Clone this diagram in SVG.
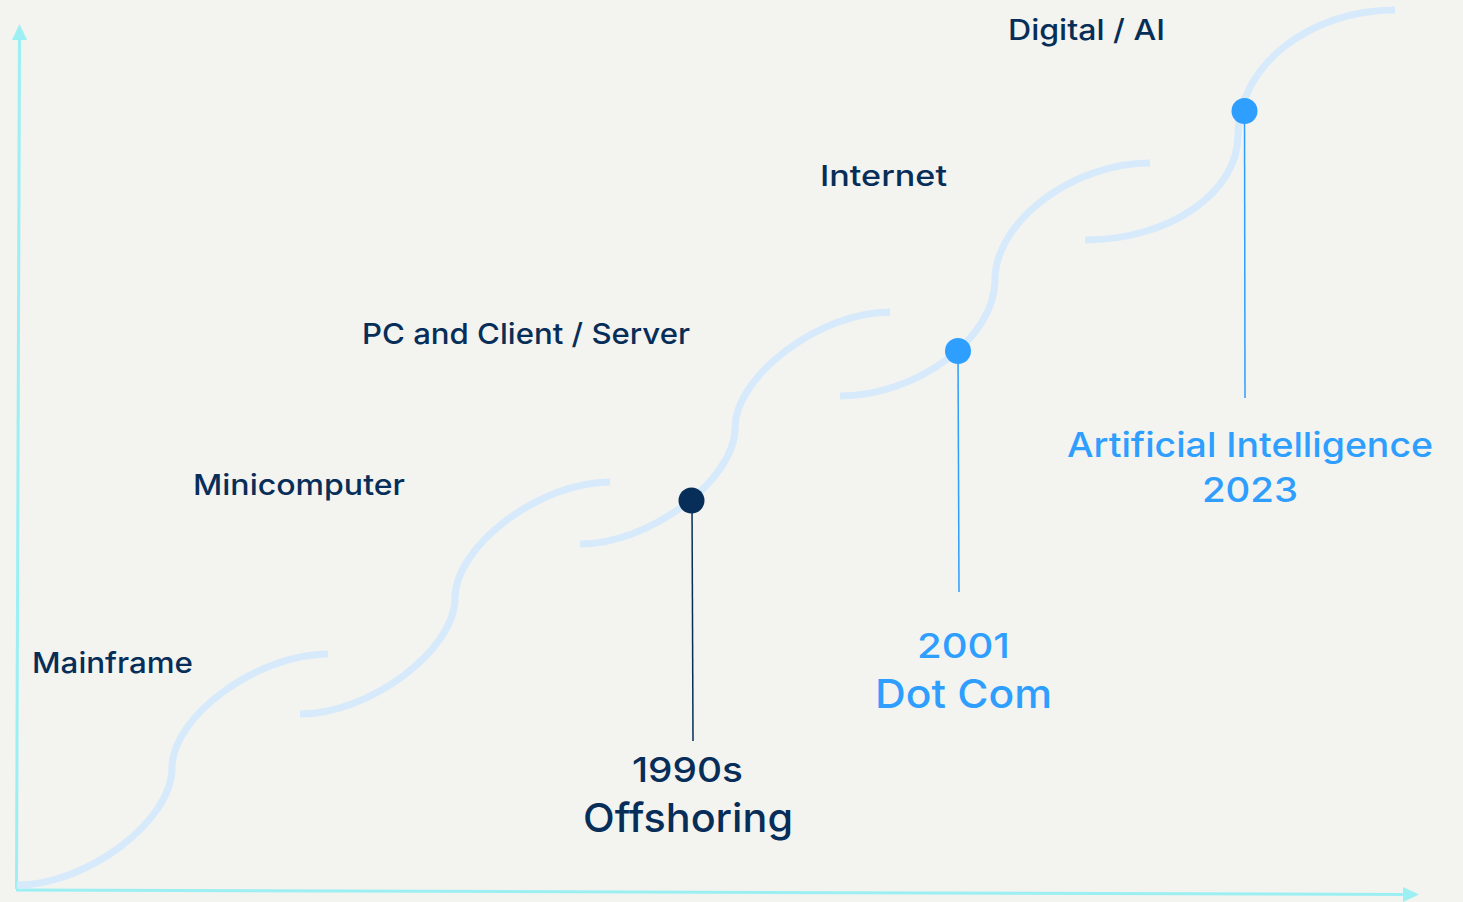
<svg xmlns="http://www.w3.org/2000/svg" width="1463" height="902" viewBox="0 0 1463 902">
<style>
.curve{fill:none;stroke:#d6eafc;stroke-width:7}
.axis{fill:none;stroke:#9cf0f4;stroke-width:3}
.era{font-family:Inter,"Liberation Sans",sans-serif;font-size:29px;font-weight:500;fill:#072e58}
.ev{font-family:Inter,"Liberation Sans",sans-serif;font-weight:500;text-anchor:middle}
.dark{fill:#072e58}
.light{fill:#2e9eff}
</style>
<rect width="1463" height="902" fill="#f3f3ef"/>
<g id="axes">
<line class="axis" x1="16.5" y1="889" x2="19.5" y2="38"/>
<polygon points="19.5,24 27,40 12,40" fill="#9cf0f4"/>
<line class="axis" x1="16" y1="890" x2="1405" y2="894.5"/>
<polygon points="1419,894.5 1403,887 1403,902" fill="#9cf0f4"/>
</g>
<g id="connectors">
<path class="curve" d="M17,885 C87,885 172,821 172,768 C172,716 258,654 328,654"/>
<path class="curve" d="M300,714 C370,714 455,650 455,598 C455,546 540,482 610,482"/>
<path class="curve" d="M580,544 C650,544 735,480 735,428 C735,376 820,312 890,312"/>
<path class="curve" d="M840,396 C917,396 995,338 995,280 C995,222 1072,163 1150,163"/>
<path class="curve" d="M1085,240 C1169,240 1238,193 1238,135 C1238,66 1309,10 1395,10"/>
<line x1="692" y1="500" x2="693" y2="741" stroke="#072e58" stroke-width="1.5"/>
<line x1="958" y1="351" x2="959" y2="592" stroke="#2e9eff" stroke-width="1.5"/>
<line x1="1244.5" y1="111" x2="1245" y2="398" stroke="#2e9eff" stroke-width="1.5"/>
</g>
<g id="mainframe"><text class="era" x="32" y="673" textLength="161" lengthAdjust="spacingAndGlyphs">Mainframe</text></g>
<g id="minicomputer"><text class="era" x="193" y="495" textLength="212" lengthAdjust="spacingAndGlyphs">Minicomputer</text></g>
<g id="pc"><text class="era" x="362" y="344" textLength="328" lengthAdjust="spacingAndGlyphs">PC and Client / Server</text></g>
<g id="internet"><text class="era" x="820" y="186" textLength="127" lengthAdjust="spacingAndGlyphs">Internet</text></g>
<g id="digital"><text class="era" x="1008" y="40" textLength="157" lengthAdjust="spacingAndGlyphs">Digital / AI</text></g>
<g id="offshoring">
<circle cx="691.5" cy="500.5" r="13" class="dark"/>
<text class="ev dark" x="687.5" y="782" font-size="34" textLength="111" lengthAdjust="spacingAndGlyphs">1990s</text>
<text class="ev dark" x="688" y="832" font-size="40" textLength="210" lengthAdjust="spacingAndGlyphs">Offshoring</text>
</g>
<g id="dotcom">
<circle cx="958" cy="351" r="13" class="light"/>
<text class="ev light" x="963.5" y="658" font-size="34" textLength="93" lengthAdjust="spacingAndGlyphs">2001</text>
<text class="ev light" x="963.5" y="708" font-size="40" textLength="177" lengthAdjust="spacingAndGlyphs">Dot Com</text>
</g>
<g id="ai">
<circle cx="1244.5" cy="111" r="13" class="light"/>
<text class="ev light" x="1250" y="457" font-size="34" textLength="366" lengthAdjust="spacingAndGlyphs">Artificial Intelligence</text>
<text class="ev light" x="1250" y="502" font-size="34" textLength="96" lengthAdjust="spacingAndGlyphs">2023</text>
</g>
</svg>
